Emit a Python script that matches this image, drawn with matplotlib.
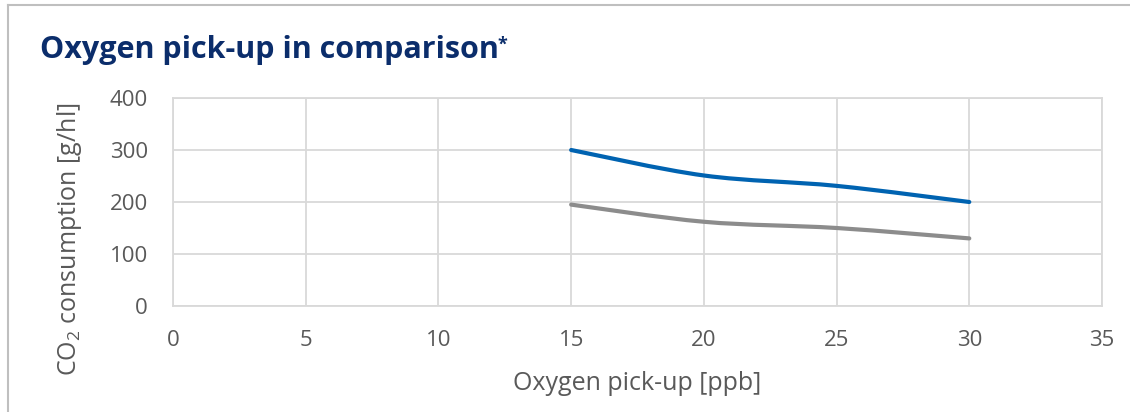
import matplotlib
matplotlib.use("Agg")
import matplotlib.pyplot as plt
from matplotlib.path import Path
from matplotlib.patches import PathPatch
from matplotlib.lines import Line2D

# data
oxygen_ppb = [15, 20, 25, 30]
co2_blue = [300, 251, 231, 200]
co2_gray = [195, 162, 150, 130]
x_ticks = [0, 5, 10, 15, 20, 25, 30, 35]
y_ticks = [0, 100, 200, 300, 400]

plt.rcParams["font.family"] = ["Open Sans", "DejaVu Sans"]
plt.rcParams["mathtext.fontset"] = "custom"
plt.rcParams["mathtext.rm"] = "Open Sans"
plt.rcParams["mathtext.it"] = "Open Sans:italic"
plt.rcParams["mathtext.bf"] = "Open Sans:bold"

TEXT = "#595959"
GRID = "#D9D9D9"


def smooth_path(xs, ys):
    """Catmull-Rom style smoothing as cubic bezier (like Excel smoothed lines)."""
    pts = list(zip(xs, ys))
    n = len(pts)
    verts = [pts[0]]
    codes = [Path.MOVETO]
    for i in range(n - 1):
        p0 = pts[i - 1] if i > 0 else pts[i]
        p1 = pts[i]
        p2 = pts[i + 1]
        p3 = pts[i + 2] if i + 2 < n else pts[i + 1]
        c1 = (p1[0] + (p2[0] - p0[0]) / 6, p1[1] + (p2[1] - p0[1]) / 6)
        c2 = (p2[0] - (p3[0] - p1[0]) / 6, p2[1] - (p3[1] - p1[1]) / 6)
        verts += [c1, c2, p2]
        codes += [Path.CURVE4] * 3
    return Path(verts, codes)


fig = plt.figure(figsize=(11.3, 4.12), dpi=100)
ax = fig.add_axes([173 / 1130, 1 - 306 / 412, (1102 - 173) / 1130, (306 - 98) / 412])

for ys, col in [(co2_gray, "#8C8C8C"), (co2_blue, "#0063B1")]:
    patch = PathPatch(smooth_path(oxygen_ppb, ys), fill=False, edgecolor=col,
                      linewidth=3, capstyle="round", zorder=3)
    ax.add_patch(patch)

ax.set_xlim(0, 35)
ax.set_ylim(0, 400)
ax.set_xticks(x_ticks)
ax.set_yticks(y_ticks)
ax.grid(True, color=GRID, linewidth=1.3)
ax.set_axisbelow(True)
for s in ax.spines.values():
    s.set_color(GRID)
    s.set_linewidth(1.3)
ax.tick_params(length=0, labelsize=16, colors=TEXT)
ax.tick_params(axis="x", pad=17)
ax.tick_params(axis="y", pad=18)

fig.text(637.5 / 1130, 1 - 383 / 412, "Oxygen pick-up [ppb]", fontsize=18, color=TEXT,
         ha="center", va="center")
fig.text(70 / 1130, 1 - 239 / 412, "CO$_2$ consumption [g/hl]", rotation=90,
         fontsize=18, color=TEXT, ha="center", va="center")

title = fig.text(40 / 1130, 1 - 58 / 412, "Oxygen pick-up in comparison",
                 fontsize=22, fontweight="bold", color="#0B2D6B", ha="left", va="baseline")
fig.canvas.draw()
bb = title.get_window_extent()
fig.text((bb.x1 - 1) / 1130, 1 - 50 / 412, "*", fontsize=13, fontweight="bold",
         color="#0B2D6B", ha="left", va="baseline")

# outer frame (top and left edges visible)
fig.add_artist(Line2D([8 / 1130, 8 / 1130], [0, 1 - 5 / 412], color="#BFBFBF", linewidth=1.5))
fig.add_artist(Line2D([8 / 1130, 1], [1 - 5 / 412, 1 - 5 / 412], color="#BFBFBF", linewidth=1.5))

fig.savefig("out.png", dpi=100)
